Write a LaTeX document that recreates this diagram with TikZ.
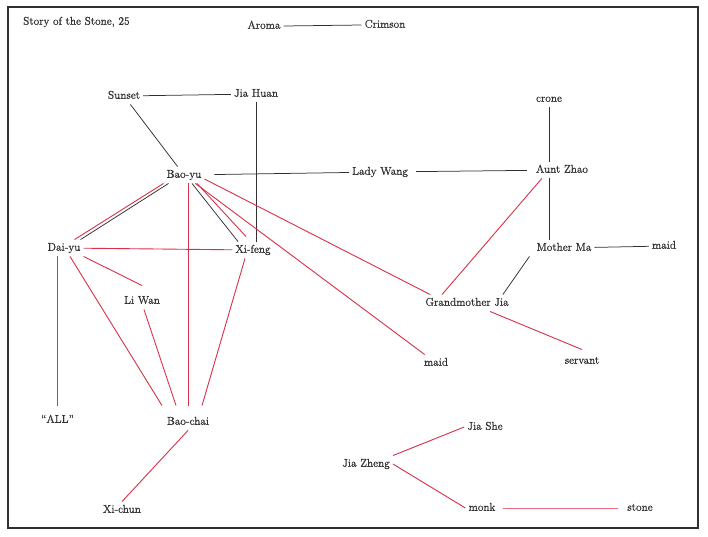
\documentclass[tikz,border=0pt]{standalone}
\usepackage{fontspec}
\usepackage{tikz}
\usetikzlibrary{calc, positioning}
\newfontfamily\namefont{Latin Modern Roman}[FakeBold=0.8, Ligatures=TeX]
\definecolor{inkgray}{RGB}{48,48,48}
\definecolor{tiered}{RGB}{216,48,70}
\definecolor{tiepink}{RGB}{228,110,128}
\tikzset{
  person/.style={
    inner sep=3pt, text height=8pt, text depth=2.5pt,
    text=inkgray, font=\namefont\fontsize{11.3}{13}\selectfont
  },
  blackTie/.style={
    line width=0.75pt, color=inkgray
  },
  redTie/.style={
    line width=0.9pt, color=tiered
  }
}

\begin{document}
\begin{tikzpicture}[
  x=1pt, y=-1pt,
  frame/.style={draw=inkgray, line width=2pt},
  title/.style={person, anchor=west}
]
\useasboundingbox (0,0) rectangle (708,536);
\draw[frame] (8,7) rectangle (698,528);
\node[title] (title) at (20,22) {Story of the Stone, 25};
\node[person] (aroma) at (264,26) {Aroma};
\node[person] (crimson) at (385,25) {Crimson};
\node[person] (sunset) at (124,96) {Sunset};
\node[person] (jiahuan) at (256,94) {Jia Huan};
\node[person] (baoyu) at (184,175) {Bao-yu};
\node[person] (ladywang) at (380,172) {Lady Wang};
\node[person] (auntzhao) at (562,170) {Aunt Zhao};
\node[person] (crone) at (549,99) {crone};
\node[person] (motherma) at (564,248) {Mother Ma};
\node[person] (maidright) at (664,246) {maid};
\node[person] (grandma) at (467,303) {Grandmother Jia};
\node[person] (servant) at (582,361) {servant};
\node[person] (maidleft) at (436,363) {maid};
\node[person] (daiyu) at (64,248) {Dai-yu};
\node[person] (xifeng) at (253,250) {Xi-feng};
\node[person] (liwan) at (142,301) {Li Wan};
\node[person] (all) at (57.5,420) {“ALL”};
\node[person] (baochai) at (188,422) {Bao-chai};
\node[person] (xichun) at (122,510) {Xi-chun};
\node[person] (jiashe) at (485,427) {Jia She};
\node[person] (jiazheng) at (366,464) {Jia Zheng};
\node[person] (monk) at (482,508) {monk};
\node[person] (stone) at (640,508) {stone};

\draw[blackTie] (aroma.east) -- (crimson.west);
\draw[blackTie] (sunset) -- (jiahuan);
\draw[blackTie] (sunset) -- (baoyu);
\draw[blackTie] (jiahuan.south) -- (jiahuan.south |- xifeng.north);
\draw[blackTie, shorten <=10pt] (baoyu) -- (ladywang);
\draw[blackTie, shorten >=6pt, shorten <=5pt] (ladywang) -- (auntzhao);
\draw[blackTie] (crone.south) -- (crone.south |- auntzhao.north);
\draw[blackTie] (crone.south |- auntzhao.south) -- (crone.south |- motherma.north);
\draw[blackTie] (motherma) -- (maidright);
\draw[blackTie] ([xshift=-4pt]motherma.south west) -- ([xshift=-9pt]grandma.north east);
\draw[blackTie] ([xshift=5pt]baoyu.south west) -- ([xshift=-3pt]daiyu.north east);
\draw[blackTie] ([xshift=8pt]baoyu.south) -- ([xshift=-15pt]xifeng.north);

\draw[redTie] (baoyu.south west) -- ([xshift=-9pt]daiyu.north east);
\draw[redTie] ([xshift=13pt]baoyu.south) -- ([xshift=-7pt,yshift=5pt]xifeng.north);
\draw[redTie] (baoyu.south -| baochai.north) -- ([yshift=8pt]baochai.north);
\draw[redTie] (baoyu) -- (maidleft);
\draw[redTie] ([yshift=-4pt]baoyu.east) -- ([xshift=8pt]grandma.north west);
\draw[redTie] ([xshift=9pt]auntzhao.south west) -- ([xshift=-25pt]grandma.north);
\draw[redTie] ([xshift=23pt]grandma.south) -- ([yshift=3pt]servant.north);
\draw[redTie] (daiyu) -- (xifeng);
\draw[redTie] (daiyu.south east) -- ([yshift=7pt]liwan.north);
\draw[redTie] (daiyu.south -| all.north) -- ([yshift=6pt]all.north);
\draw[redTie] ([xshift=6pt]daiyu.south) -- ([xshift=-26pt,yshift=8pt]baochai.north);
\draw[redTie] ([xshift=2pt]liwan.south) -- ([xshift=-12pt,yshift=8pt]baochai.north);
\draw[redTie] ([xshift=-8pt]xifeng.south) -- ([xshift=14pt,yshift=8pt]baochai.north);
\draw[redTie] (baochai.south) -- (xichun.north);
\draw[redTie] (jiazheng.north east) -- (jiashe.west);
\draw[redTie] (jiazheng.east) -- (monk.west);
\draw[redTie, color=tiepink, shorten <=4pt, shorten >=6pt] (monk) -- (stone);
\end{tikzpicture}
\end{document}
